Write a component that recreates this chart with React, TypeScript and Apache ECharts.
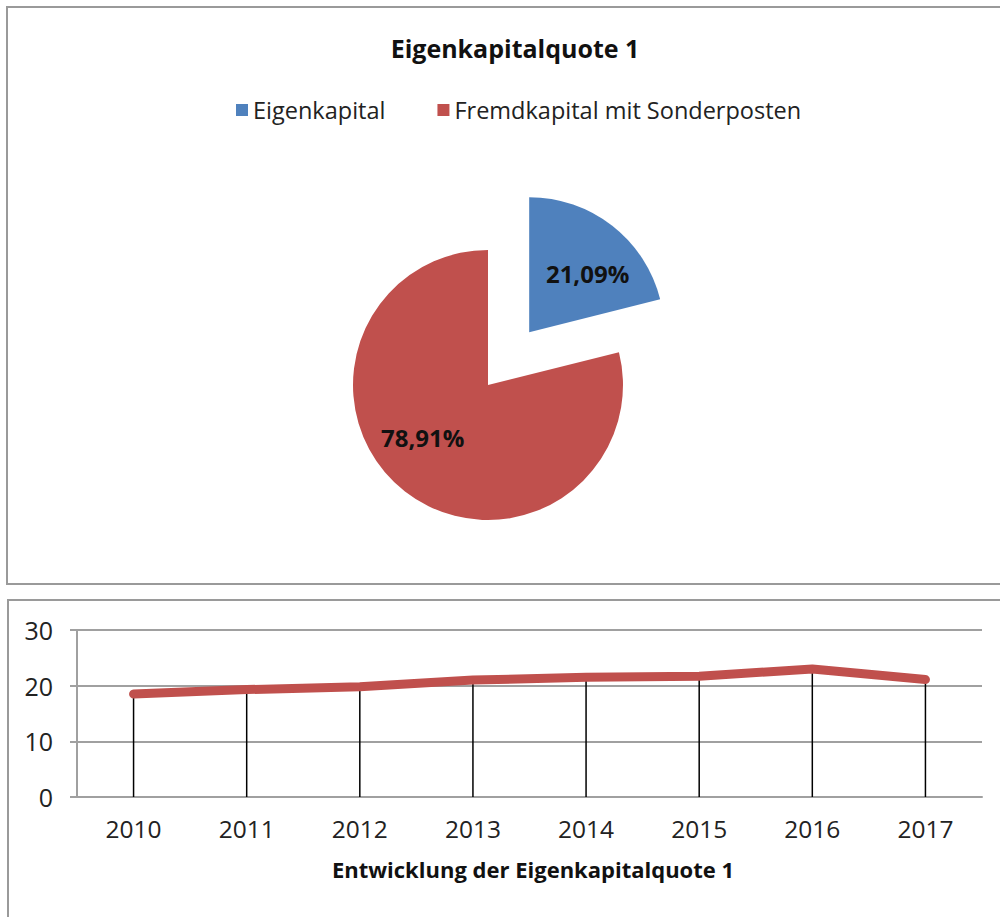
import React, { useEffect, useRef } from "react";
import * as echarts from "echarts";

const pieNames = ["Eigenkapital", "Fremdkapital mit Sonderposten"];
const pieValues = [21.09, 78.91];
const pieColors = ["#4f81bd", "#c0504d"];

const years = ["2010", "2011", "2012", "2013", "2014", "2015", "2016", "2017"];
const quote = [18.5, 19.3, 19.8, 21.0, 21.5, 21.7, 23.0, 21.09];

const FONT = "'Open Sans', 'Liberation Sans', sans-serif";

export default function App() {
  const ref = useRef<HTMLDivElement>(null);
  useEffect(() => {
    if (!ref.current) return;
    const chart = echarts.init(ref.current, null, { renderer: "svg" });
    chart.setOption({
      animation: false,
      backgroundColor: "#ffffff",
      textStyle: { fontFamily: FONT },
      title: [
        {
          text: "Eigenkapitalquote 1",
          left: 510,
          top: 30,
          textAlign: "center",
          textStyle: { fontFamily: FONT, fontSize: 25, fontWeight: "bold", color: "#111" },
        },
        {
          text: "Entwicklung der Eigenkapitalquote 1",
          left: 528,
          top: 853,
          textAlign: "center",
          textStyle: { fontFamily: FONT, fontSize: 22, fontWeight: "bold", color: "#111" },
        },
      ],
      legend: {
        data: pieNames,
        left: 231,
        top: 93,
        itemWidth: 12,
        itemHeight: 12,
        itemGap: 52,
        icon: "rect",
        selectedMode: false,
        textStyle: { fontFamily: FONT, fontSize: 23.5, color: "#222" },
      },
      graphic: [
        {
          type: "rect",
          shape: { x: 7, y: 7, width: 1010, height: 577 },
          style: { fill: "none", stroke: "#9a9a9a", lineWidth: 2 },
          z: -1,
        },
        {
          type: "rect",
          shape: { x: 8, y: 600, width: 1010, height: 400 },
          style: { fill: "none", stroke: "#9a9a9a", lineWidth: 2 },
          z: -1,
        },
      ],
      grid: { left: 77, right: 18, top: 630, bottom: 120 },
      xAxis: {
        type: "category",
        data: years,
        boundaryGap: true,
        axisLine: { show: true, lineStyle: { color: "#a0a0a0", width: 2 } },
        axisTick: { show: false },
        axisLabel: { margin: 19, fontFamily: FONT, fontSize: 24.5, color: "#222" },
      },
      yAxis: {
        type: "value",
        min: 0,
        max: 30,
        interval: 10,
        axisLine: { show: true, lineStyle: { color: "#a0a0a0", width: 2 } },
        axisTick: { show: true, length: 7, lineStyle: { color: "#a0a0a0", width: 2 } },
        splitLine: { show: true, lineStyle: { color: "#a0a0a0", width: 2 } },
        axisLabel: { margin: 24, fontFamily: FONT, fontSize: 25, color: "#222" },
      },
      series: [
        {
          type: "pie",
          center: [488, 385],
          radius: 135,
          startAngle: 90,
          clockwise: true,
          selectedMode: "single",
          selectedOffset: 67,
          avoidLabelOverlap: false,
          label: {
            show: true,
            position: "inside",
            fontFamily: FONT,
            fontSize: 24,
            fontWeight: "bold",
            color: "#111",
            formatter: (p: any) => p.value.toFixed(2).replace(".", ",") + "%",
          },
          labelLayout: (p: any) => (p.dataIndex === 0 ? { dx: 15, dy: -3 } : { dx: -22, dy: -3 }),
          labelLine: { show: false },
          emphasis: { disabled: true },
          data: pieNames.map((n, i) => ({
            name: n,
            value: pieValues[i],
            selected: i === 0,
            itemStyle: { color: pieColors[i] },
          })),
        },
        {
          type: "bar",
          data: quote,
          barWidth: 1.5,
          silent: true,
          itemStyle: { color: "#000" },
          z: 1,
        },
        {
          type: "line",
          data: quote,
          showSymbol: false,
          symbol: "none",
          lineStyle: { color: "#c0504d", width: 9, cap: "round", join: "round" },
          silent: true,
          z: 3,
        },
      ],
    });
    return () => chart.dispose();
  }, []);
  return (
    <div
      ref={ref}
      style={{ position: "absolute", left: 0, top: 0, width: 1000, height: 917 }}
    />
  );
}
